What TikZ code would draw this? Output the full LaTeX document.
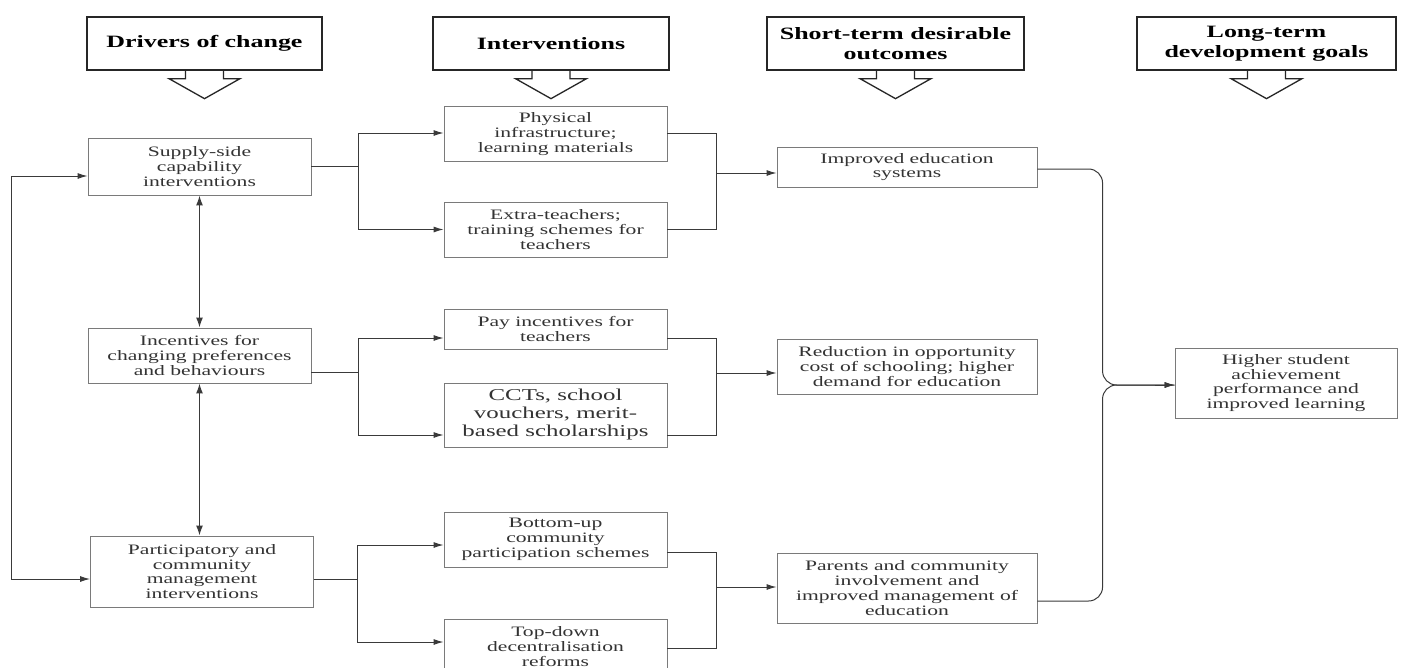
\documentclass[tikz,border=0pt]{standalone}
\usepackage{fontspec}
\setmainfont{Liberation Serif}[FakeStretch=1.5]
\usetikzlibrary{arrows.meta,calc}
\definecolor{boxgray}{HTML}{7A7A7A}
\definecolor{txtgray}{HTML}{333333}
\definecolor{lngray}{HTML}{3A3A3A}
\begin{document}
\begin{tikzpicture}[x=1pt,y=-1pt,
  box/.style={draw=boxgray, line width=0.9pt, minimum width=223pt, align=center, inner sep=0pt, text=txtgray, font=\fontsize{14.4}{14.8}\selectfont},
  hdr/.style={draw=black!85, line width=1.3pt, align=center, inner sep=0pt, minimum height=53pt, font=\bfseries\fontsize{17.3}{20}\selectfont},
  conn/.style={draw=lngray, line width=1pt},
  arr/.style={conn, -{Latex[length=10pt,width=6pt]}},
  darr/.style={conn, {Latex[length=10pt,width=6pt]}-{Latex[length=10pt,width=6pt]}},
  vdarr/.style={conn, line width=1.4pt, {Latex[length=10pt,width=7pt]}-{Latex[length=10pt,width=7pt]}},
  hdarrow/.style={draw=black!85, line width=1.3pt, line join=miter}
]
\useasboundingbox (0,0) rectangle (1403,667);
\fill[white] (0,0) rectangle (1403,667);

% headers
\node[hdr, minimum width=235pt] (h1) at (204.5,43.5) {Drivers of change};
\node[hdr, minimum width=236pt] (h2) at (551,43.5) {Interventions};
\node[hdr, minimum width=257pt] (h3) at (895.5,43.5) {Short-term desirable\\outcomes};
\node[hdr, minimum width=259pt] (h4) at (1266.5,43.5) {Long-term\\development goals};
\foreach \h in {h1,h2,h3,h4}{
  \draw[hdarrow] ([xshift=-19pt]\h.south) -- ++(0,8) -- ++(-16.5,0) -- ++(35.5,20) -- ++(35.5,-20) -- ++(-16.5,0) -- ++(0,-8);
}

% drivers
\node[box, minimum height=57pt] (sup) at (199.5,166.5) {Supply-side\\capability\\interventions};
\node[box, minimum height=55pt] (inc) at (199.5,355.5) {Incentives for\\changing preferences\\and behaviours};
\node[box, minimum height=71pt] (par) at (202,571.5) {Participatory and\\community\\management\\interventions};

% interventions
\node[box, minimum height=55pt] (phy) at (555.5,134) {Physical\\infrastructure;\\learning materials};
\node[box, minimum height=55pt] (ext) at (555.5,229.5) {Extra-teachers;\\training schemes for\\teachers};
\node[box, minimum height=40pt] (pay) at (555.5,329) {Pay incentives for\\teachers};
\node[box, minimum height=64pt, font=\fontsize{16.6}{18}\selectfont] (cct) at (555.5,415) {CCTs, school\\vouchers, merit-\\based scholarships};
\node[box, minimum height=55pt] (bot) at (555.5,539.5) {Bottom-up\\community\\participation schemes};
\node[box, minimum height=55pt] (top) at (555.5,646.5) {Top-down\\decentralisation\\reforms};

% outcomes
\node[box, minimum width=260pt, minimum height=40pt] (imp) at (907,167) {Improved education\\systems};
\node[box, minimum width=260pt, minimum height=55pt] (red) at (907,366.5) {Reduction in opportunity\\cost of schooling; higher\\demand for education};
\node[box, minimum width=260pt, minimum height=70pt] (prt) at (907,588) {Parents and community\\involvement and\\improved management of\\education};

% goal
\node[box, minimum width=222pt, minimum height=70pt] (hig) at (1286,383) {Higher student\\achievement\\performance and\\improved learning};

% left loop and vertical links
\draw[darr] ([yshift=-9.5pt]sup.west) -- ++(-76,0) |- ([yshift=-7.5pt]par.west);
\draw[vdarr] (sup.south) -- (sup.south |- inc.north);
\draw[vdarr] (inc.south) -- (inc.south |- par.north);

% drivers -> interventions
\draw[arr] (sup.east) -- ++(47,0) |- ([yshift=1pt]phy.west);
\draw[arr] (sup.east) -- ++(47,0) |- (ext.west);
\draw[arr] ([yshift=-16.5pt]inc.east) -- ++(47,0) |- ([yshift=-9pt]pay.west);
\draw[arr] ([yshift=-16.5pt]inc.east) -- ++(47,0) |- ([yshift=-20pt]cct.west);
\draw[arr] ([yshift=-7.5pt]par.east) -- ++(44,0) |- ([yshift=-5.5pt]bot.west);
\draw[arr] ([yshift=-7.5pt]par.east) -- ++(44,0) |- ([yshift=4.5pt]top.west);

% interventions -> outcomes
\coordinate (j1t) at ([yshift=-6pt]imp.west);
\coordinate (j2t) at ([yshift=-6.5pt]red.west);
\coordinate (j3t) at ([yshift=1pt]prt.west);
\draw[conn] ([yshift=1pt]phy.east) -- ++(49,0) coordinate (j1) |- (ext.east);
\draw[arr] (j1 |- j1t) -- (j1t);
\draw[conn] ([yshift=-9pt]pay.east) -- ++(49,0) coordinate (j2) |- ([yshift=-20pt]cct.east);
\draw[arr] (j2 |- j2t) -- (j2t);
\draw[conn] ([yshift=-12.5pt]bot.east) -- ++(49,0) coordinate (j3) |- ([yshift=-1.5pt]top.east);
\draw[arr] (j3 |- j3t) -- (j3t);

% outcomes -> goal (brace)
\coordinate (brc) at ([xshift=-72pt,yshift=-2pt]hig.west);
\draw[conn, rounded corners=14pt] ([yshift=-2pt]imp.east) -| (brc) -- ([yshift=-2pt]hig.west);
\draw[arr, rounded corners=14pt] ([yshift=-13pt]prt.east) -| (brc) -- ([yshift=-2pt]hig.west);
\draw[arr] ([xshift=-20pt,yshift=-2pt]hig.west) -- ([yshift=-2pt]hig.west);
\end{tikzpicture}
\end{document}
